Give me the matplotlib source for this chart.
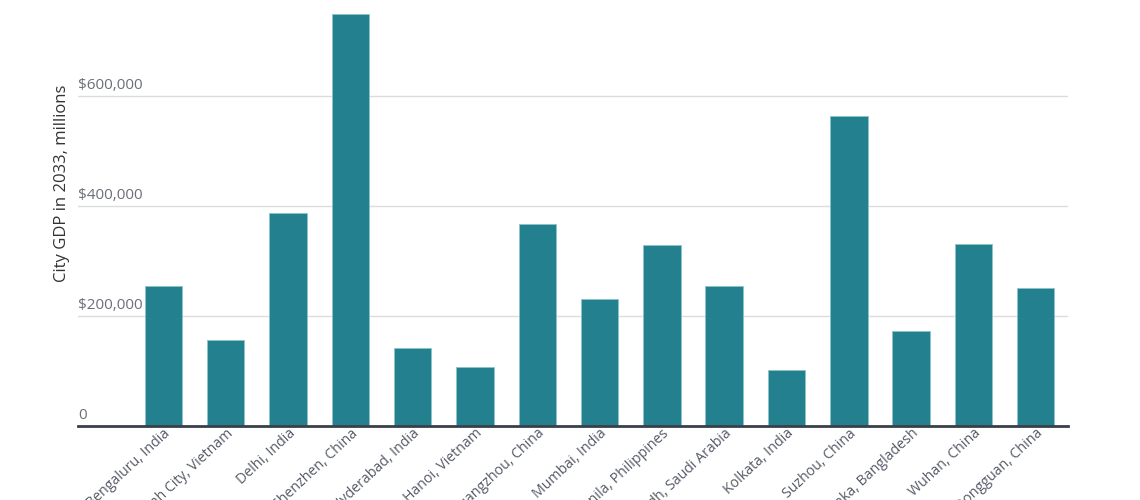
import matplotlib.pyplot as plt
import matplotlib.transforms as mtransforms
from matplotlib import rc

cities = ['Bengaluru, India', 'Ho Chi Minh City, Vietnam', 'Delhi, India',
          'Shenzhen, China', 'Hyderabad, India', 'Hanoi, Vietnam',
          'Guangzhou, China', 'Mumbai, India', 'Manila, Philippines',
          'Riyadh, Saudi Arabia', 'Kolkata, India', 'Suzhou, China',
          'Dhaka, Bangladesh', 'Wuhan, China', 'Dongguan, China']
gdp_2033 = [254500, 156400, 387300, 749000, 141800, 107300, 367300, 230900,
            329100, 254500, 101800, 563600, 172700, 330900, 250900]
y_ticks = [0, 200000, 400000, 600000]
y_tick_labels = ['0', '$200,000', '$400,000', '$600,000']

rc('font', **{'family': ['Open Sans', 'DejaVu Sans']})

fig = plt.figure(figsize=(11.4, 5), dpi=100)
ax = fig.add_axes([0.0684, 0.148, 0.8686, 0.852])

x = range(len(cities))
ax.bar(x, gdp_2033, width=0.6, color='#22808f', edgecolor='#8cc3ca',
       linewidth=0.6, zorder=3)

ax.set_xlim(-1.37, len(cities) - 0.48)
ax.set_ylim(0, 774500)

# gridlines + labels sitting on top of them, inside the plot
ax.set_yticks(y_ticks)
ax.set_yticklabels([])
ax.tick_params(axis='y', length=0)
ax.grid(axis='y', color='#dcdcdc', linewidth=1, zorder=0)
trans = mtransforms.blended_transform_factory(ax.transAxes, ax.transData)
for v, lab in zip(y_ticks, y_tick_labels):
    ax.text(0.0, v + 6000, lab, transform=trans, ha='left', va='bottom',
            fontsize=11, color='#6b6f78')

ax.axhline(0, color='#3a3f4a', linewidth=2, zorder=4, clip_on=False)

ax.set_xticks(list(x))
ax.set_xticklabels(cities, rotation=43, ha='right', rotation_mode='anchor',
                   fontsize=10.2, color='#555a66')
offset = mtransforms.ScaledTranslation(0.13, 0.0, fig.dpi_scale_trans)
for lab in ax.get_xticklabels():
    lab.set_transform(lab.get_transform() + offset)
ax.tick_params(axis='x', length=0, pad=0)

ax.set_ylabel('City GDP in 2033, millions', fontsize=12, color='#333333')
ax.yaxis.set_label_coords(-0.008, 0.57)

for s in ax.spines.values():
    s.set_visible(False)

fig.savefig('out.png', dpi=100)
